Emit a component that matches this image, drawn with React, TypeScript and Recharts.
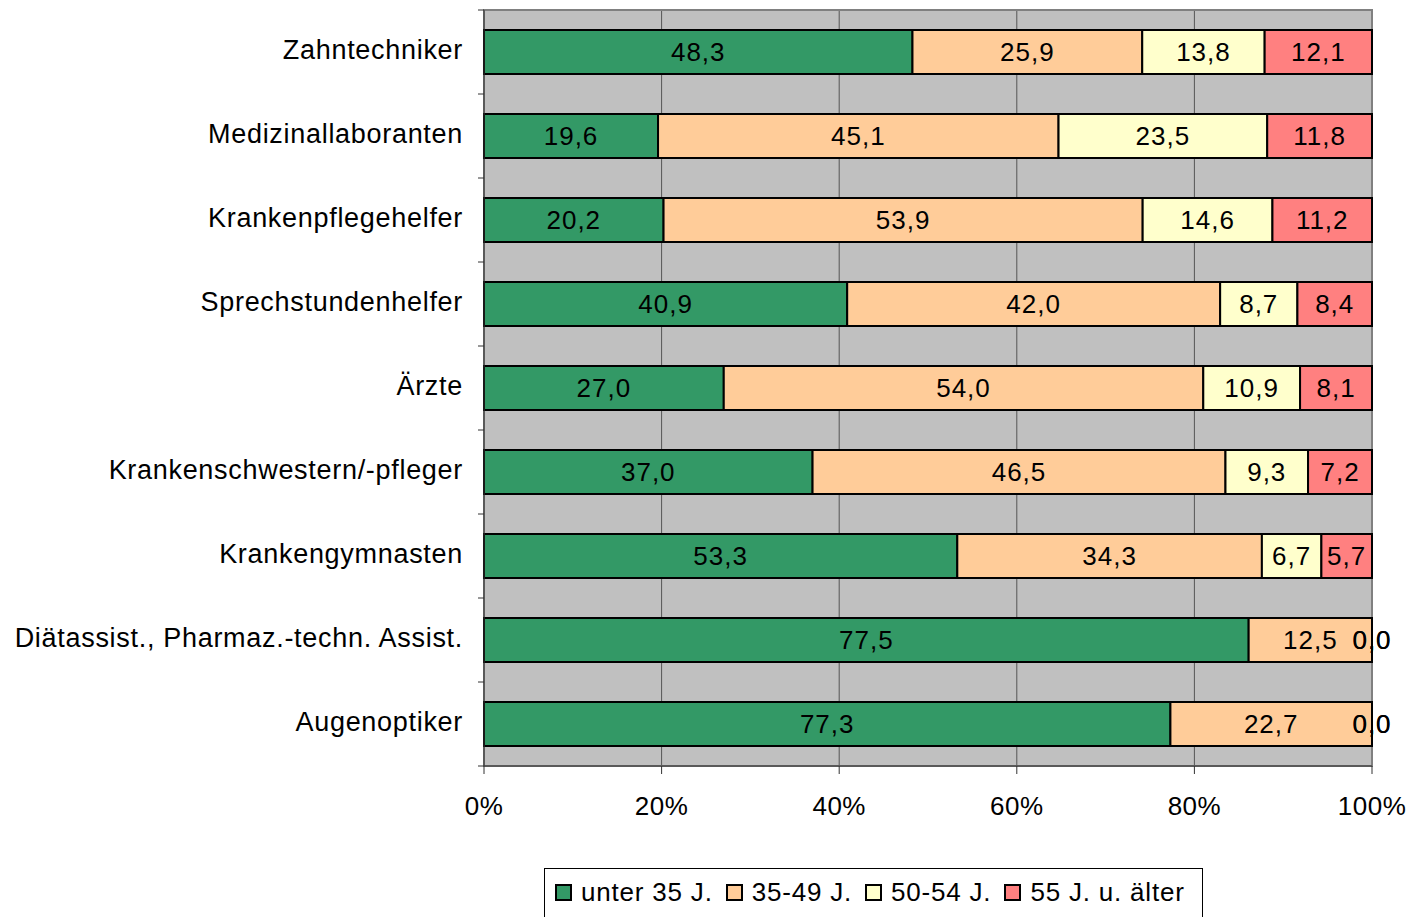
import {
  BarChart, Bar, XAxis, YAxis, CartesianGrid, LabelList, ReferenceArea,
} from 'recharts'

const categories = [
  'Zahntechniker',
  'Medizinallaboranten',
  'Krankenpflegehelfer',
  'Sprechstundenhelfer',
  'Ärzte',
  'Krankenschwestern/-pfleger',
  'Krankengymnasten',
  'Diätassist., Pharmaz.-techn. Assist.',
  'Augenoptiker',
]

const under35 = [48.3, 19.6, 20.2, 40.9, 27.0, 37.0, 53.3, 77.5, 77.3]
const age3549 = [25.9, 45.1, 53.9, 42.0, 54.0, 46.5, 34.3, 12.5, 22.7]
const age5054 = [13.8, 23.5, 14.6, 8.7, 10.9, 9.3, 6.7, 0.0, 0.0]
const age55 = [12.1, 11.8, 11.2, 8.4, 8.1, 7.2, 5.7, 0.0, 0.0]

const xTicks = [0, 0.2, 0.4, 0.6, 0.8, 1]

const SERIES = [
  { key: 'u35', name: 'unter 35 J.', color: '#339966' },
  { key: 'a3549', name: '35-49 J.', color: '#FFCC99' },
  { key: 'a5054', name: '50-54 J.', color: '#FFFFCC' },
  { key: 'a55', name: '55 J. u. älter', color: '#FF8080' },
]

const data = categories.map((name, i) => ({
  name,
  u35: under35[i],
  a3549: age3549[i],
  a5054: age5054[i],
  a55: age55[i],
}))

const W = 1409
const H = 917
const X_AXIS_H = 60
const MARGIN = { top: 10, right: 37, left: 0, bottom: 151 - X_AXIS_H }
const BAND = (H - 151 - MARGIN.top) / categories.length
const FONT = '"Liberation Sans", Arial, sans-serif'
const LABEL_STYLE = { fontSize: 26, fill: '#000', fontFamily: FONT, letterSpacing: 1 }

const fmt = (v: unknown) => Number(v).toFixed(1).replace('.', ',')

function CatTick(props: any) {
  const { x, y, payload, index } = props
  return (
    <g>
      <line x1={x} x2={x + 6} y1={y - BAND / 2} y2={y - BAND / 2} stroke="#333" />
      {index === categories.length - 1 && (
        <line x1={x} x2={x + 6} y1={y + BAND / 2} y2={y + BAND / 2} stroke="#333" />
      )}
      <text x={x - 15} y={y - 2} dy="0.35em" textAnchor="end" fontSize={27} letterSpacing={0.7} fill="#000" fontFamily={FONT}>
        {payload.value}
      </text>
    </g>
  )
}

// zero-width segments at the end of a bar still get their "0,0" labels
function ZeroEndLabels(props: any) {
  const { x, y, width, height, index } = props
  const zeros = [age5054[index], age55[index]].filter((v) => v === 0)
  if (!zeros.length) return null
  return (
    <g>
      {zeros.map((v, k) => (
        <text key={k} x={x + width} y={y + height / 2} dy="0.35em" textAnchor="middle" style={LABEL_STYLE}>
          {fmt(v)}
        </text>
      ))}
    </g>
  )
}

export default function App() {
  return (
    <div style={{ position: 'absolute', left: 0, top: 0, width: W, height: H, fontFamily: FONT, background: '#fff' }}>
      <BarChart
        width={W}
        height={H}
        data={data}
        layout="vertical"
        stackOffset="expand"
        barCategoryGap={0}
        margin={MARGIN}
      >
        <CartesianGrid horizontal={false} stroke="#555" fill="#C0C0C0" fillOpacity={1} />
        <ReferenceArea x1={0} x2={1} fill="none" stroke="#808080" strokeWidth={2} ifOverflow="extendDomain" />
        <XAxis
          type="number"
          domain={[0, 1]}
          ticks={xTicks}
          tickFormatter={(v) => `${Math.round(v * 100)}%`}
          tick={{ fontSize: 26, fill: '#000', fontFamily: FONT, letterSpacing: 0.5 }}
          stroke="#333"
          tickSize={8}
          tickMargin={23}
          height={X_AXIS_H}
        />
        <YAxis
          type="category"
          dataKey="name"
          width={484}
          tickLine={false}
          tickSize={6}
          tickMargin={0}
          stroke="#333"
          tick={<CatTick />}
          interval={0}
        />
        {SERIES.map((s) => (
          <Bar
            key={s.key}
            dataKey={s.key}
            name={s.name}
            stackId="a"
            fill={s.color}
            stroke="#000"
            strokeWidth={2}
            barSize={44}
            isAnimationActive={false}
          >
            <LabelList dataKey={s.key} position="center" formatter={fmt} style={LABEL_STYLE} />
            {s.key === 'a3549' && <LabelList dataKey={s.key} content={<ZeroEndLabels />} />}
          </Bar>
        ))}
      </BarChart>
      <div
        style={{
          position: 'absolute',
          left: 544,
          top: 868,
          width: 659,
          height: 60,
          border: '1px solid #000',
          display: 'flex',
          alignItems: 'flex-start',
          paddingTop: 7,
          boxSizing: 'border-box',
          paddingLeft: 10,
        }}
      >
        {SERIES.map((s) => (
          <div key={s.key} style={{ display: 'flex', alignItems: 'center', marginRight: 13 }}>
            <span
              style={{
                width: 13,
                height: 13,
                background: s.color,
                border: '2px solid #000',
                display: 'inline-block',
                marginRight: 9,
              }}
            />
            <span style={{ fontSize: 26, lineHeight: '32px', color: '#000', letterSpacing: 0.8 }}>{s.name}</span>
          </div>
        ))}
      </div>
    </div>
  )
}
